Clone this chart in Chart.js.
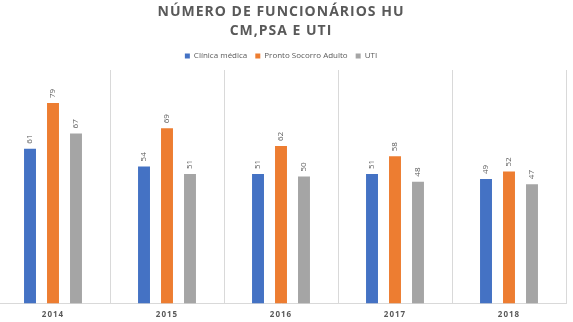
<!DOCTYPE html>
<html>
<head>
<meta charset="utf-8">
<script src="https://cdn.jsdelivr.net/npm/chart.js@4/dist/chart.umd.min.js"></script>
<style>
  html, body { margin: 0; padding: 0; background: #ffffff; overflow: hidden; }
  #wrap { position: absolute; left: -4px; top: 0; width: 572px; height: 330px; }
</style>
</head>
<body>
<div id="wrap"><canvas id="c"></canvas></div>
<script>
const titleLines = ["NÚMERO DE FUNCIONÁRIOS HU", "CM,PSA E UTI"];
const categories = ["2014", "2015", "2016", "2017", "2018"];
const seriesNames = ["Clínica médica", "Pronto Socorro Adulto", "UTI"];
const clinicaMedica = [61, 54, 51, 51, 49];
const prontoSocorro = [79, 69, 62, 58, 52];
const uti = [67, 51, 50, 48, 47];
const seriesColors = ["#4472C4", "#ED7D31", "#A5A5A5"];
const textColor = "#595959";

const labelsPlugin = {
  id: "customText",
  beforeDraw(chart) {
    chart.ctx.letterSpacing = "0px";
  },
  afterDatasetsDraw(chart) {
    const ctx = chart.ctx;
    ctx.save();
    ctx.letterSpacing = "0px";
    ctx.font = "8px 'Open Sans'";
    ctx.fillStyle = textColor;
    ctx.textAlign = "left";
    ctx.textBaseline = "middle";
    chart.data.datasets.forEach((ds, di) => {
      const meta = chart.getDatasetMeta(di);
      meta.data.forEach((bar, i) => {
        ctx.save();
        ctx.translate(bar.x, bar.y - 5);
        ctx.rotate(-Math.PI / 2);
        ctx.fillText(String(ds.data[i]), 0, 0);
        ctx.restore();
      });
    });
    ctx.restore();
    ctx.letterSpacing = "1px";
  },
  afterDraw(chart) {
    const ctx = chart.ctx;
    ctx.save();
    ctx.letterSpacing = "1px";
    ctx.font = "bold 14px 'Open Sans'";
    ctx.fillStyle = textColor;
    ctx.textAlign = "center";
    ctx.textBaseline = "alphabetic";
    const cx = (chart.chartArea.left + chart.chartArea.right) / 2;
    ctx.fillText(titleLines[0], cx, 16);
    ctx.fillText(titleLines[1], cx, 35);
    ctx.restore();
    ctx.letterSpacing = "0px";
  }
};

const datasetValues = [clinicaMedica, prontoSocorro, uti];
new Chart(document.getElementById("c"), {
  type: "bar",
  data: {
    labels: categories,
    datasets: datasetValues.map((vals, i) => ({
      label: seriesNames[i],
      data: vals,
      backgroundColor: seriesColors[i],
      borderWidth: 0,
      barPercentage: 0.52,
      categoryPercentage: 0.605
    }))
  },
  options: {
    responsive: true,
    maintainAspectRatio: false,
    animation: false,
    events: [],
    layout: { padding: { top: 44, right: 2, left: 0, bottom: 3 } },
    plugins: {
      title: { display: false },
      tooltip: { enabled: false },
      legend: {
        display: true,
        position: "top",
        labels: {
          boxWidth: 5,
          boxHeight: 5,
          padding: 8,
          color: textColor,
          font: { family: "'Open Sans'", size: 8 }
        }
      }
    },
    scales: {
      x: {
        offset: true,
        grid: { display: true, offset: true, color: "#D9D9D9", drawTicks: false, lineWidth: 1 },
        border: { display: true, color: "#D9D9D9" },
        ticks: {
          z: 1,
          padding: 7,
          color: textColor,
          font: { family: "'Open Sans'", size: 8, weight: "bold" },
          maxRotation: 0
        }
      },
      y: {
        display: false,
        min: 0,
        max: 92
      }
    }
  },
  plugins: [labelsPlugin]
});
</script>
</body>
</html>
